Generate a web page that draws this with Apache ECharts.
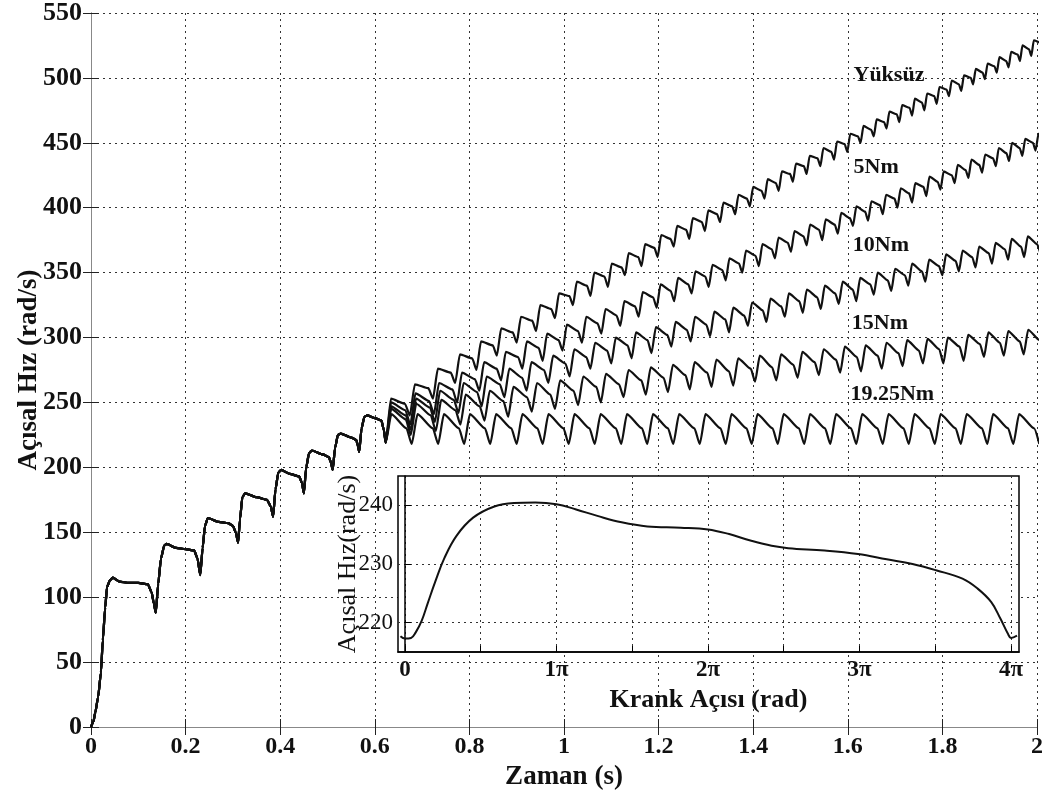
<!DOCTYPE html>
<html>
<head>
<meta charset="utf-8">
<script src="https://cdn.jsdelivr.net/npm/echarts@6/dist/echarts.min.js"></script>
<style>
  html, body { margin: 0; padding: 0; background: #fff; }
  #main { width: 1047px; height: 799px; }
</style>
</head>
<body>
<div id="main"></div>
<script>
// ortak baslangic (0 - 0.623 s), tum egriler ust uste
const earlyTime = [0, 0.005, 0.009, 0.015, 0.021, 0.025, 0.03, 0.034, 0.04, 0.046, 0.06, 0.08, 0.1, 0.12, 0.128, 0.133, 0.137,
  0.142, 0.148, 0.155, 0.16, 0.18, 0.2, 0.218, 0.225, 0.231, 0.236, 0.241, 0.247, 0.27, 0.29, 0.3, 0.306, 0.311,
  0.315, 0.32, 0.326, 0.35, 0.372, 0.38, 0.385, 0.39, 0.396, 0.402, 0.42, 0.44, 0.446, 0.45, 0.455, 0.461, 0.467,
  0.49, 0.503, 0.507, 0.511, 0.516, 0.522, 0.528, 0.55, 0.561, 0.564, 0.567, 0.572, 0.578, 0.584, 0.6, 0.614, 0.619, 0.623]
const earlySpeed = [0, 4, 11, 23, 42, 67, 92, 108, 113, 115, 112, 111, 111, 110, 104, 95, 88,
  110, 130, 140, 141, 138, 137, 136, 130, 117, 138, 155, 161, 158, 157, 155, 150, 142,
  160, 177, 180, 177, 175, 170, 162, 183, 196, 198, 195, 193, 188, 180, 200, 211, 213,
  210, 208, 204, 198, 215, 225, 226, 223, 221, 217, 212, 230, 239, 240, 238, 236, 229, 219]

// her cevrim: dip zamani, dip degeri, tepe, dususten onceki omuz
const yuksuzDipTime = [0.623, 0.674, 0.723, 0.770, 0.815, 0.858, 0.900, 0.941, 0.981, 1.019, 1.056, 1.093, 1.129, 1.164, 1.198,
  1.232, 1.265, 1.298, 1.330, 1.362, 1.393, 1.424, 1.454, 1.484, 1.513, 1.542, 1.571, 1.599, 1.627, 1.655, 1.682, 1.709,
  1.736, 1.762, 1.788, 1.814, 1.840, 1.865, 1.890, 1.915, 1.940, 1.964, 1.988, 2.012]
const yuksuzDip = [219, 240, 253, 265, 275, 286, 296, 305, 315, 325, 332, 339, 348, 355, 362, 370, 376, 382, 389, 395, 401, 407,
  413, 420, 426, 432, 437, 443, 450, 455, 461, 466, 471, 475, 480, 486, 490, 495, 499, 504, 508, 513, 517, 522]
const yuksuzPeak = [253, 264, 276, 287, 297, 307, 316, 325, 334, 343, 350, 357, 365, 372, 379, 386, 392, 398, 404, 410, 416, 422,
  428, 434, 440, 446, 451, 457, 463, 468, 474, 479, 484, 488, 493, 498, 502, 507, 511, 516, 520, 525, 529]
const yuksuzShoulder = [249, 261, 273, 284, 294, 304, 313, 322, 332, 340, 347, 354, 362, 369, 376, 383, 389, 395, 401, 407, 413, 419,
  426, 432, 438, 443, 449, 455, 460, 466, 472, 477, 481, 486, 491, 495, 500, 504, 509, 513, 518, 522, 527]

const nm5DipTime = [0.623, 0.675, 0.725, 0.774, 0.821, 0.867, 0.912, 0.955, 0.997, 1.038, 1.079, 1.119, 1.158, 1.196, 1.233,
  1.270, 1.306, 1.342, 1.377, 1.412, 1.446, 1.480, 1.513, 1.546, 1.579, 1.611, 1.643, 1.674, 1.705, 1.736, 1.766, 1.796,
  1.826, 1.855, 1.884, 1.913, 1.941, 1.969, 1.997, 2.025]
const nm5Dip = [219, 233, 241, 250, 259, 267, 276, 282, 290, 296, 303, 309, 316, 323, 328, 334, 339, 344, 350, 355, 361, 366,
  371, 375, 380, 386, 390, 395, 400, 404, 409, 414, 419, 423, 427, 432, 436, 440, 444, 448]
const nm5Peak = [250, 257, 265, 273, 281, 289, 297, 303, 310, 316, 322, 328, 335, 341, 346, 351, 356, 361, 367, 372, 377, 382,
  387, 391, 396, 401, 405, 410, 415, 419, 424, 428, 433, 437, 441, 446, 450, 453, 457]
const nm5Shoulder = [244, 251, 260, 268, 276, 285, 292, 298, 305, 311, 317, 324, 331, 336, 341, 347, 352, 357, 363, 368, 373, 378,
  383, 387, 392, 397, 402, 407, 411, 416, 420, 425, 429, 433, 438, 442, 446, 450, 454]

const nm10DipTime = [0.623, 0.676, 0.727, 0.777, 0.826, 0.874, 0.921, 0.967, 1.012, 1.056, 1.100, 1.143, 1.185, 1.227, 1.268,
  1.309, 1.349, 1.389, 1.428, 1.467, 1.505, 1.543, 1.581, 1.618, 1.655, 1.692, 1.728, 1.764, 1.800, 1.835, 1.870, 1.905,
  1.939, 1.973, 2.007]
const nm10Dip = [219, 229, 235, 242, 247, 254, 259, 265, 270, 276, 280, 284, 288, 293, 297, 301, 304, 309, 312, 316, 319, 322,
  326, 328, 333, 336, 340, 343, 348, 351, 354, 357, 360, 362, 365]
const nm10Peak = [247, 253, 259, 265, 270, 276, 281, 286, 291, 296, 300, 304, 308, 312, 316, 320, 323, 327, 330, 334, 337, 340,
  343, 346, 350, 353, 357, 360, 364, 367, 370, 373, 376, 378]
const nm10Shoulder = [240, 246, 252, 258, 264, 269, 275, 280, 285, 290, 294, 298, 302, 306, 310, 314, 317, 321, 324, 328, 331, 334,
  337, 341, 344, 348, 351, 355, 359, 362, 365, 368, 370, 372]

const nm15DipTime = [0.623, 0.676, 0.729, 0.781, 0.832, 0.882, 0.932, 0.981, 1.030, 1.078, 1.126, 1.173, 1.220, 1.266, 1.312,
  1.358, 1.404, 1.449, 1.494, 1.539, 1.584, 1.628, 1.672, 1.716, 1.759, 1.802, 1.845, 1.888, 1.930, 1.972, 2.014]
const nm15Dip = [219, 225, 228, 233, 236, 239, 243, 245, 248, 250, 254, 256, 258, 260, 262, 263, 266, 267, 269, 271, 273, 274,
  276, 278, 280, 280, 282, 285, 286, 287, 288]
const nm15Peak = [245, 249, 252, 256, 259, 262, 265, 267, 270, 272, 275, 277, 279, 281, 283, 284, 286, 287, 289, 291, 293, 294,
  296, 298, 299, 300, 302, 304, 305, 306]
const nm15Shoulder = [237, 240, 244, 247, 251, 254, 256, 259, 262, 264, 267, 269, 271, 273, 274, 276, 277, 279, 281, 283, 285, 286,
  288, 290, 291, 293, 295, 296, 297, 298]

const nm1925DipTime = [0.623, 0.678, 0.734, 0.789, 0.844, 0.900, 0.955, 1.010, 1.065, 1.121, 1.176, 1.231, 1.287, 1.342, 1.397,
  1.452, 1.508, 1.563, 1.618, 1.674, 1.729, 1.784, 1.839, 1.895, 1.950, 2.005]
const nm1925Dip = [219, 218, 218, 218, 218, 218, 218, 218, 218, 218, 218, 218, 218, 218, 218, 218, 218, 218, 218, 218, 218, 218,
  218, 218, 218, 218]
const nm1925Peak = [241, 241, 241, 241, 241, 241, 241, 241, 241, 241, 241, 241, 241, 241, 241, 241, 241, 241, 241, 241, 241, 241,
  241, 241, 241]
const nm1925Shoulder = [230, 230, 230, 230, 230, 230, 230, 230, 230, 230, 230, 230, 230, 230, 230, 230, 230, 230, 230, 230, 230, 230,
  230, 230, 230]

// ic grafik: bir cevrim (krank acisi pi biriminde)
const crankAngle = [-0.03, 0, 0.04, 0.07, 0.11, 0.15, 0.2, 0.26, 0.34, 0.45, 0.59, 0.72, 0.86, 1.0, 1.13, 1.27, 1.43, 1.6, 1.82,
  2.0, 2.14, 2.28, 2.42, 2.53, 2.77, 2.99, 3.18, 3.35, 3.51, 3.68, 3.78, 3.87, 3.93, 3.98, 4.0, 4.04]
const crankSpeed = [217.7, 217.3, 217.4, 218.3, 220.3, 223.3, 227, 231, 234.8, 237.9, 239.8, 240.4, 240.5, 240.2, 239.3, 238.2,
  237.1, 236.4, 236.2, 235.9, 235.1, 234, 233.1, 232.7, 232.3, 231.7, 230.8, 230, 228.9, 227.5, 225.8, 223.5, 220.7, 218.1,
  217.4, 217.8]

const curveNames = ['Yüksüz', '5Nm', '10Nm', '15Nm', '19.25Nm']
const insetXTicks = [0, 0.5, 1, 1.5, 2, 2.5, 3, 3.5, 4]
const insetXLabels = [0, 1, 2, 3, 4]
const insetYTicks = [220, 230, 240]

const serif = "'Liberation Serif', 'DejaVu Serif', serif"
const ink = '#111'
const gridDots = {color: '#333', width: 1, type: [2, 4]}

// cevrim dizilerinden cizgi noktalari
function buildCurve(dipTime, dip, peak, shoulder) {
  let pts = earlyTime.map((t, i) => [t, earlySpeed[i]])
  for (let k = 0; k < peak.length; k++) {
    let t0 = dipTime[k], t1 = dipTime[k + 1], p = t1 - t0
    pts.push([t0 + 0.22 * p, peak[k]])
    pts.push([t0 + 0.8 * p, shoulder[k]])
    pts.push([t1, dip[k + 1]])
  }
  return pts
}

const curves = [
  buildCurve(yuksuzDipTime, yuksuzDip, yuksuzPeak, yuksuzShoulder),
  buildCurve(nm5DipTime, nm5Dip, nm5Peak, nm5Shoulder),
  buildCurve(nm10DipTime, nm10Dip, nm10Peak, nm10Shoulder),
  buildCurve(nm15DipTime, nm15Dip, nm15Peak, nm15Shoulder),
  buildCurve(nm1925DipTime, nm1925Dip, nm1925Peak, nm1925Shoulder)
]
// egri etiketlerinin yeri (veri koordinati)
const labelAt = [[1.687, 502], [1.66, 431], [1.67, 371], [1.668, 311], [1.694, 256]]

let chart = echarts.init(document.getElementById('main'))

let mainSeries = curves.map((pts, i) => ({
  type: 'line',
  name: curveNames[i],
  xAxisIndex: 0,
  yAxisIndex: 0,
  data: pts,
  showSymbol: false,
  smooth: 0.2,
  smoothMonotone: 'x',
  lineStyle: {color: ink, width: 2.2},
  z: 2,
  markPoint: {
    symbol: 'circle',
    symbolSize: 1,
    itemStyle: {color: 'rgba(0,0,0,0)'},
    label: {show: true, position: 'inside', formatter: curveNames[i], color: ink,
      fontFamily: serif, fontWeight: 'bold', fontSize: 22},
    data: [{coord: labelAt[i]}]
  }
}))

chart.setOption({
  animation: false,
  backgroundColor: '#fff',
  grid: [
    {left: 91, right: 10, top: 13, bottom: 72, outerBoundsMode: 'none'},
    {left: 398, right: 28, top: 476, bottom: 147, show: true, backgroundColor: '#fff',
      borderColor: '#000', borderWidth: 1.5, z: 5, outerBoundsMode: 'none'}
  ],
  xAxis: [
    {
      type: 'value', gridIndex: 0, min: 0, max: 2, interval: 0.2,
      axisLine: {lineStyle: {color: '#333'}},
      axisTick: {inside: true, length: 8, lineStyle: {color: '#222'}},
      axisLabel: {color: ink, fontFamily: serif, fontWeight: 'bold', fontSize: 24, margin: 8},
      splitLine: {show: true, lineStyle: gridDots},
      name: 'Zaman (s)', nameLocation: 'middle', nameGap: 36,
      nameTextStyle: {color: ink, fontFamily: serif, fontWeight: 'bold', fontSize: 27}
    },
    {
      type: 'value', gridIndex: 0, position: 'top', min: 0, max: 2, interval: 0.2,
      axisLine: {lineStyle: {color: '#888'}},
      axisTick: {inside: true, length: 8, lineStyle: {color: '#222'}},
      axisLabel: {show: false}, splitLine: {show: false}
    },
    {
      type: 'value', gridIndex: 1, min: -0.046, max: 4.053, z: 6,
      axisLine: {lineStyle: {color: '#000', width: 1.5}},
      axisTick: {inside: true, length: 6, customValues: insetXTicks, lineStyle: {color: '#000'}},
      axisLabel: {customValues: insetXLabels, formatter: v => v === 0 ? '0' : v + 'π',
        color: ink, fontFamily: serif, fontWeight: 'bold', fontSize: 23, margin: 7},
      splitLine: {show: false},
      name: 'Krank Açısı (rad)', nameLocation: 'middle', nameGap: 35,
      nameTextStyle: {color: ink, fontFamily: serif, fontWeight: 'bold', fontSize: 26}
    }
  ],
  yAxis: [
    {
      type: 'value', gridIndex: 0, min: 0, max: 550, interval: 50,
      axisLine: {show: true, lineStyle: {color: '#888'}},
      axisTick: {show: true, inside: true, length: 8, lineStyle: {color: '#222'}},
      axisLabel: {color: ink, fontFamily: serif, fontWeight: 'bold', fontSize: 26, margin: 9},
      splitLine: {show: true, lineStyle: gridDots},
      name: 'Açısal Hız (rad/s)', nameLocation: 'middle', nameGap: 48, nameMoveOverlap: false,
      nameTextStyle: {color: ink, fontFamily: serif, fontWeight: 'bold', fontSize: 27}
    },
    {
      type: 'value', gridIndex: 0, position: 'right', min: 0, max: 550, interval: 50,
      axisLine: {show: true, lineStyle: {color: '#888'}},
      axisTick: {show: true, inside: true, length: 8, lineStyle: {color: '#222'}},
      axisLabel: {show: false}, splitLine: {show: false}
    },
    {
      type: 'value', gridIndex: 1, min: 215, max: 245, z: 6,
      axisLine: {show: true, lineStyle: {color: '#000', width: 1.5}},
      axisTick: {show: true, inside: true, length: 6, customValues: insetYTicks, lineStyle: {color: '#000'}},
      axisLabel: {customValues: insetYTicks, color: ink, fontFamily: serif, fontSize: 23, margin: 5},
      splitLine: {show: false},
      name: 'Açısal Hız(rad/s)', nameLocation: 'middle', nameGap: 37, nameMoveOverlap: false,
      nameTextStyle: {color: ink, fontFamily: serif, fontSize: 26}
    }
  ],
  series: mainSeries.concat([{
    type: 'line',
    xAxisIndex: 2,
    yAxisIndex: 2,
    data: crankAngle.map((a, i) => [a, crankSpeed[i]]),
    showSymbol: false,
    smooth: 0.4,
    lineStyle: {color: ink, width: 2},
    z: 7,
    // ic grafigin izgara cizgileri
    markLine: {
      silent: true,
      symbol: 'none',
      z: 6,
      label: {show: false},
      lineStyle: gridDots,
      data: insetXTicks.map(v => ({xAxis: v})).concat(insetYTicks.map(v => ({yAxis: v})))
    }
  }])
})
</script>
</body>
</html>
